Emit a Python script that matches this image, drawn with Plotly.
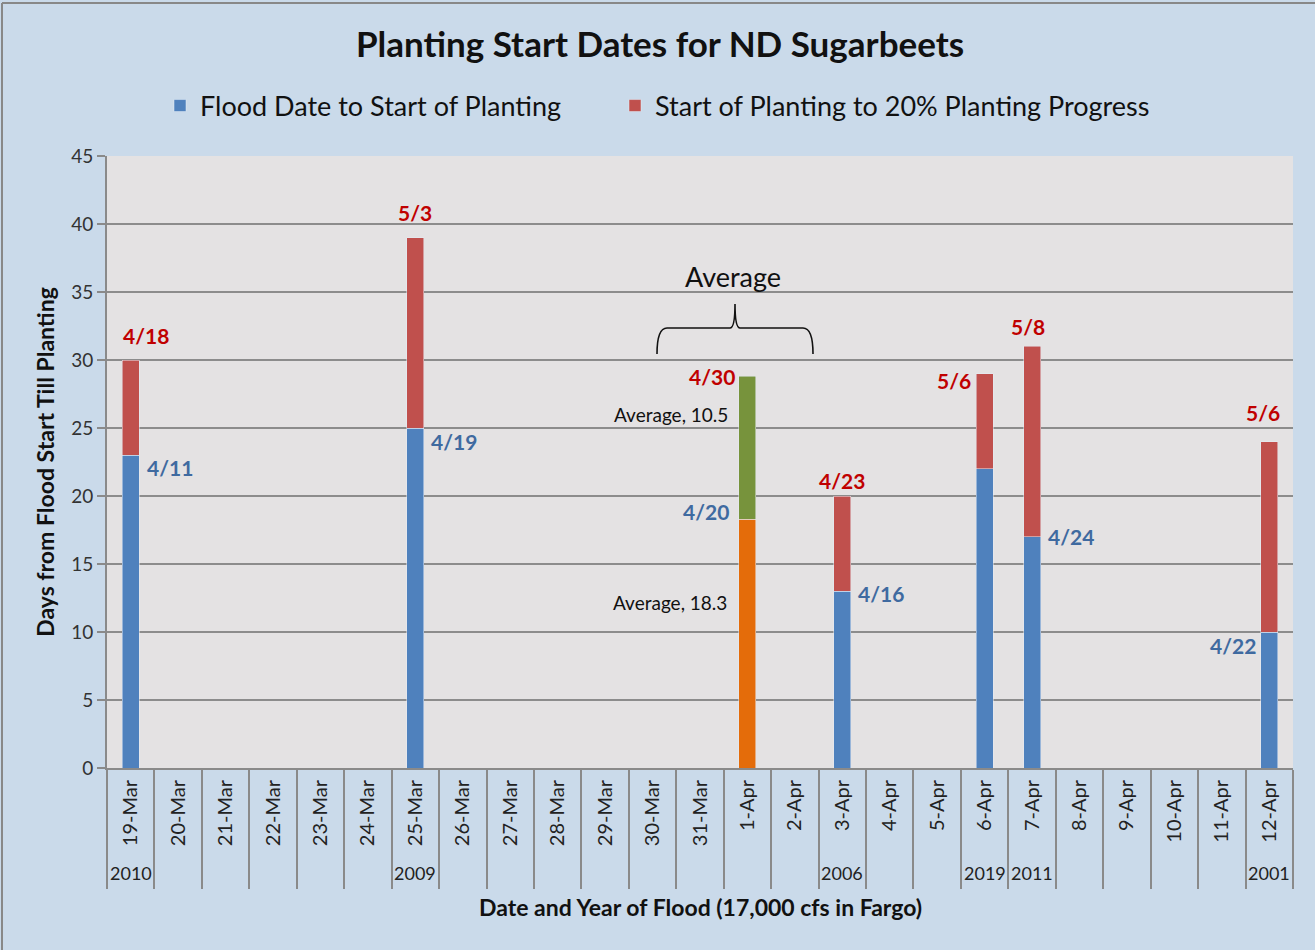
import plotly.graph_objects as go

# ---- data ----
dates = ["19-Mar", "20-Mar", "21-Mar", "22-Mar", "23-Mar", "24-Mar", "25-Mar", "26-Mar",
         "27-Mar", "28-Mar", "29-Mar", "30-Mar", "31-Mar", "1-Apr", "2-Apr", "3-Apr",
         "4-Apr", "5-Apr", "6-Apr", "7-Apr", "8-Apr", "9-Apr", "10-Apr", "11-Apr", "12-Apr"]
years = {"19-Mar": "2010", "25-Mar": "2009", "3-Apr": "2006", "6-Apr": "2019",
         "7-Apr": "2011", "12-Apr": "2001"}

flood_dates = ["19-Mar", "25-Mar", "3-Apr", "6-Apr", "7-Apr", "12-Apr"]
flood_to_start = [23, 25, 13, 22, 17, 10]
start_to_20pct = [7, 14, 7, 7, 14, 14]
start_labels = ["4/11", "4/19", "4/16", None, "4/24", "4/22"]
end_labels = ["4/18", "5/3", "4/23", "5/6", "5/8", "5/6"]

avg_date = ["1-Apr"]
avg_flood_to_start = [18.3]
avg_start_to_20pct = [10.5]

BLUE, RED, ORANGE, GREEN = "#4F81BD", "#C0504D", "#E46C0A", "#77933C"
LBL_BLUE, LBL_RED = "#3F6AA0", "#C00000"
FONT = "Lato"
LBL_SIZE = 21

fig = go.Figure()
fig.add_trace(go.Bar(x=flood_dates, y=flood_to_start, name="Flood Date to Start of Planting",
                     marker_color=BLUE, width=0.36, legend="legend"))
fig.add_trace(go.Bar(x=flood_dates, y=start_to_20pct, name="Start of Planting to 20% Planting Progress",
                     marker_color=RED, width=0.36, legend="legend2"))
fig.add_trace(go.Bar(x=avg_date, y=avg_flood_to_start, name="Average", showlegend=False,
                     marker_color=ORANGE, width=0.36))
fig.add_trace(go.Bar(x=avg_date, y=avg_start_to_20pct, name="Average", showlegend=False,
                     marker_color=GREEN, width=0.36, base=avg_flood_to_start))

ann = []
end_pos = ["above", "above", "above", "left", "above", "above"]
end_xshift = [15, 0, 0, -12, -4, -6]
end_yshift = [25, 25, 16, -7, 20, 29]
start_pos = ["right", "right", "right", None, "right", "left"]
start_yshift = [-12, -13, -2, 0, 0, -13]
for i, d in enumerate(flood_dates):
    b = flood_to_start[i]
    tot = b + start_to_20pct[i]
    if end_pos[i] == "above":
        ann.append(dict(x=d, y=tot, text="<b>%s</b>" % end_labels[i], showarrow=False,
                        xanchor="center", yanchor="middle", yshift=end_yshift[i],
                        xshift=end_xshift[i],
                        font=dict(family=FONT, size=LBL_SIZE, color=LBL_RED)))
    else:
        ann.append(dict(x=d, y=tot, text="<b>%s</b>" % end_labels[i], showarrow=False,
                        xanchor="right", yanchor="middle", xshift=end_xshift[i],
                        yshift=end_yshift[i],
                        font=dict(family=FONT, size=LBL_SIZE, color=LBL_RED)))
    if start_labels[i]:
        right = start_pos[i] == "right"
        ann.append(dict(x=d, y=b, text="<b>%s</b>" % start_labels[i], showarrow=False,
                        xanchor="left" if right else "right", yanchor="middle",
                        xshift=14 if right else -11, yshift=start_yshift[i],
                        font=dict(family=FONT, size=LBL_SIZE, color=LBL_BLUE)))

avg_top = avg_flood_to_start[0] + avg_start_to_20pct[0]
ann += [
    dict(x="1-Apr", y=avg_top, text="<b>4/30</b>", showarrow=False, xanchor="right",
         yanchor="middle", xshift=-10, font=dict(family=FONT, size=LBL_SIZE, color=LBL_RED)),
    dict(x="1-Apr", y=avg_flood_to_start[0], text="<b>4/20</b>", showarrow=False, xanchor="right",
         yanchor="middle", xshift=-16, yshift=8, font=dict(family=FONT, size=LBL_SIZE, color=LBL_BLUE)),
    dict(x="1-Apr", y=26.0, text="Average, 10.5", showarrow=False, xanchor="right",
         yanchor="middle", xshift=-17, font=dict(family=FONT, size=19, color="#111111")),
    dict(x="1-Apr", y=12.2, text="Average, 18.3", showarrow=False, xanchor="right",
         yanchor="middle", xshift=-18, font=dict(family=FONT, size=19, color="#111111")),
]


def px(x):
    return (x - 107) / 1186.0


def py(y):
    return (768 - y) / 612.0


ann += [
    dict(x=px(733), y=py(276), xref="paper", yref="paper", text="Average", showarrow=False,
         xanchor="center", yanchor="middle", font=dict(family=FONT, size=27, color="#111111")),
    dict(x=px(700), y=py(907), xref="paper", yref="paper",
         text="<b>Date and Year of Flood (17,000 cfs in Fargo)</b>", showarrow=False,
         xanchor="center", yanchor="middle", font=dict(family=FONT, size=23, color="#111111")),
]

for d in dates:
    if d in years:
        ann.append(dict(x=d, y=py(873), yref="paper", text=years[d], showarrow=False,
                        xanchor="center", yanchor="middle",
                        font=dict(family=FONT, size=18, color="#222222")))

brace = ("M {a},{b} Q {a},{c} {d},{c} L {e},{c} Q {f},{c} {f},{g} "
         "Q {f},{c} {h},{c} L {i},{c} Q {j},{c} {j},{b}").format(
    a=px(657), b=py(354), c=py(328), d=px(667), e=px(730), f=px(735), g=py(304),
    h=px(740), i=px(803), j=px(813))

shapes = [
    dict(type="path", path=brace, xref="paper", yref="paper",
         line=dict(color="#111111", width=1.6)),
    dict(type="line", xref="paper", yref="paper", x0=px(2), x1=px(1320), y0=py(3), y1=py(3),
         line=dict(color="#888888", width=2)),
    dict(type="line", xref="paper", yref="paper", x0=px(2), x1=px(2), y0=py(3), y1=py(960),
         line=dict(color="#888888", width=2)),
]

legend_common = dict(orientation="h", yanchor="middle", y=py(106), xanchor="left",
                     font=dict(family=FONT, size=27, color="#111111"),
                     bgcolor="rgba(0,0,0,0)", itemwidth=30)

fig.update_layout(
    width=1315, height=950,
    margin=dict(l=107, r=22, t=156, b=182),
    paper_bgcolor="#CADAEA", plot_bgcolor="#E4E2E3",
    barmode="stack",
    title=dict(text="<b>Planting Start Dates for ND Sugarbeets</b>", x=px(660), xanchor="center",
               y=1 - 45 / 950, yanchor="middle", xref="paper",
               font=dict(family=FONT, size=35, color="#111111")),
    legend=dict(x=px(160), **legend_common),
    legend2=dict(x=px(615), **legend_common),
    annotations=ann,
    shapes=shapes,
    showlegend=True,
    xaxis=dict(type="category", categoryorder="array", categoryarray=dates,
               range=[-0.5, len(dates) - 0.5],
               tickmode="array", tickvals=dates, ticktext=dates,
               tickangle=-90, tickson="boundaries", ticks="outside", ticklen=119,
               tickcolor="#8A8A8A", tickwidth=2, ticklabelstandoff=2,
               tickfont=dict(family=FONT, size=20, color="#222222"),
               showline=True, linecolor="#8A8A8A", linewidth=2, showgrid=False),
    yaxis=dict(range=[0, 45], dtick=5, tick0=0, ticks="outside", ticklen=8, tickcolor="#8A8A8A",
               tickwidth=2, showline=True, linecolor="#8A8A8A", linewidth=2,
               showgrid=True, gridcolor="#8C8C8C", gridwidth=2, zeroline=False,
               tickfont=dict(family=FONT, size=19, color="#333333"),
               title=dict(text="<b>Days from Flood Start Till Planting</b>",
                          font=dict(family=FONT, size=23, color="#111111"), standoff=10)),
)

fig.write_html("out.html", config={"displayModeBar": False},
               post_script="document.body.style.margin='0';")
